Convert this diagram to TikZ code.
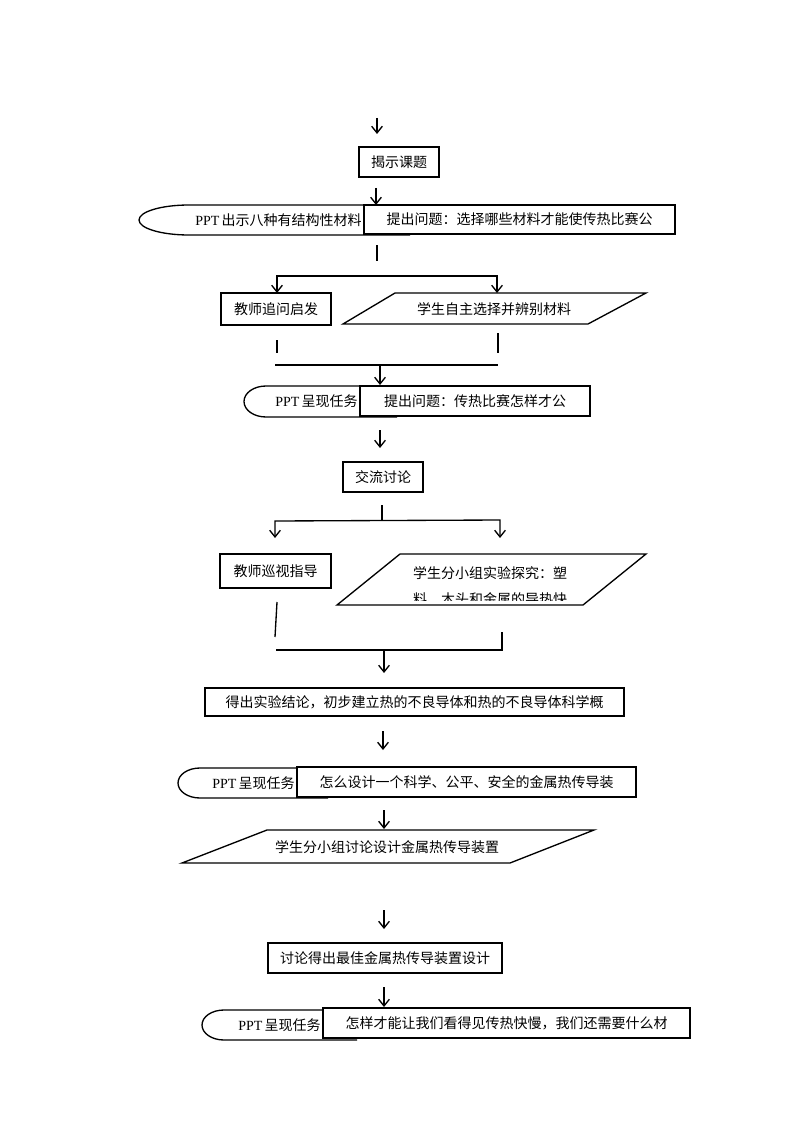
\documentclass[tikz,border=0pt]{standalone}
\usepackage{fontspec}
\setmainfont{Liberation Serif}
\newfontfamily\cjk{Noto Sans CJK SC}
\usetikzlibrary{arrows.meta,positioning,calc}
\newcommand{\PPT}{{\rmfamily PPT}\,}
% left rounded cap of a PPT box: x left, x right, y top, y bottom, x radius
\newcommand{\pptcap}[5]{%
  \draw[capline] (#2,#3) -- ({#1+#5},#3)
    .. controls ({#1+0.45*#5},#3) and (#1,{#3+0.22*(#4-#3)}) .. (#1,{(#3+#4)/2})
    .. controls (#1,{#4-0.22*(#4-#3)}) and ({#1+0.45*#5},#4) .. ({#1+#5},#4) -- (#2,#4);}

\begin{document}
\begin{tikzpicture}[
  x=0.75pt, y=-0.75pt,
  font=\cjk\fontsize{10.5pt}{13pt}\selectfont,
  box/.style={draw, line width=1.1pt, fill=white, inner sep=0pt},
  txt/.style={inner sep=0pt},
  capline/.style={line width=1pt},
  slant/.style={line width=1pt},
  link/.style={line width=1pt},
  arr/.style={line width=1pt, -{Straight Barb[length=5pt,width=8pt]}},
  arrs/.style={line width=1pt, {Straight Barb[length=5pt,width=8pt]}-{Straight Barb[length=5pt,width=8pt]}},
]
\fill[white] (0,0) rectangle (794,1123);
\useasboundingbox (0,0) rectangle (794,1123);

% start
\coordinate (a0s) at (377,118); \coordinate (a0e) at (377,134);
\draw[arr] (a0s) -- (a0e);
\node[box, minimum width=60pt, minimum height=22.5pt] (title) at (399,162) {揭示课题};
\coordinate (a1s) at (376,188); \coordinate (a1e) at (376,205);
\draw[arr] (a1s) -- (a1e);

% first question
\pptcap{139}{410}{205}{235}{50}
\node[txt, anchor=east] (ppt1) at (362,220) {\PPT 出示八种有结构性材料};
\node[box, minimum width=233.25pt, minimum height=21.75pt] (q1) at (519.5,219.5) {提出问题：选择哪些材料才能使传热比赛公};
\draw[link] (377,245) coordinate (l1a) -- (377,261) coordinate (l1b);

% split 1
\coordinate (s1l) at (277,293); \coordinate (s1r) at (497,293);
\draw[arrs] (s1l) -- (277,276) -- (497,276) -- (s1r);
\node[box, minimum width=82.5pt, minimum height=24pt] (ask) at (276,309) {教师追问启发};
\draw[slant] (395,293) -- (646,293) -- (588,324) -- (343,324) -- cycle;
\node[txt] (pick) at (494,309) {学生自主选择并辨别材料};

% join 1
\draw[link] (277,340) coordinate (l2a) -- (277,353) coordinate (l2b);
\draw[link] (498,333) coordinate (l3a) -- (498,353) coordinate (l3b);
\draw[link] (275,365) coordinate (j1l) -- (498,365) coordinate (j1r);
\coordinate (j1m) at (380,365); \coordinate (a3e) at (380,385);
\draw[arr] (j1m) -- (a3e);

% second question
\pptcap{244}{397}{386}{417}{22}
\node[txt, anchor=east] (ppt2) at (358,401) {\PPT 呈现任务};
\node[box, minimum width=172.5pt, minimum height=22.5pt] (q2) at (475,401) {提出问题：传热比赛怎样才公};
\coordinate (a4s) at (380,430); \coordinate (a4e) at (380,448);
\draw[arr] (a4s) -- (a4e);
\node[box, minimum width=60pt, minimum height=22.5pt] (talk) at (383,477) {交流讨论};
\draw[link] (382,505) coordinate (l4a) -- (382,521) coordinate (l4b);

% split 2
\coordinate (s2l) at (275,538); \coordinate (s2r) at (500,538);
\draw[arrs] (s2l) -- (275,521) -- (500,520) -- (s2r);
\node[box, minimum width=83.25pt, minimum height=25.5pt] (guide) at (275.5,571) {教师巡视指导};
\draw[slant] (400,554) -- (646,554) -- (583,605) -- (337,605) -- cycle;
\node[txt] (test) at (490,573) {学生分小组实验探究：塑};
\begin{scope}
  \clip (337,560) rectangle (646,600);
  \node[txt] (test2) at (490,599) {料、木头和金属的导热快};
\end{scope}

% join 2
\draw[link] (277,602) coordinate (l5a) -- (275,637) coordinate (l5b);
\draw[link] (502,632) coordinate (l6a) -- (502,650) -- (276,650) coordinate (j2l);
\coordinate (j2m) at (384,650); \coordinate (a5e) at (384,673);
\draw[arr] (j2m) -- (a5e);

% conclusion
\node[box, minimum width=314.25pt, minimum height=21pt] (concl) at (414.5,702) {得出实验结论，初步建立热的不良导体和热的不良导体科学概};
\coordinate (a6s) at (383,731); \coordinate (a6e) at (383,750);
\draw[arr] (a6s) -- (a6e);

% design task
\pptcap{178}{328}{768}{798}{22}
\node[txt, anchor=east] (ppt3) at (295,783) {\PPT 呈现任务};
\node[box, minimum width=254.25pt, minimum height=22.5pt] (q3) at (466.5,782) {怎么设计一个科学、公平、安全的金属热传导装};
\coordinate (a7s) at (384,810); \coordinate (a7e) at (384,829);
\draw[arr] (a7s) -- (a7e);
\draw[slant] (267,830) -- (594,830) -- (510,863) -- (182,863) -- cycle;
\node[txt] (plan) at (387,847) {学生分小组讨论设计金属热传导装置};
\coordinate (a8s) at (384,910); \coordinate (a8e) at (384,929);
\draw[arr] (a8s) -- (a8e);
\node[box, minimum width=175.5pt, minimum height=22.5pt] (best) at (385,958) {讨论得出最佳金属热传导装置设计};
\coordinate (a9s) at (384,987); \coordinate (a9e) at (384,1007);
\draw[arr] (a9s) -- (a9e);

% last task
\pptcap{202}{357}{1010}{1040}{22}
\node[txt, anchor=east] (ppt4) at (321,1025) {\PPT 呈现任务};
\node[box, minimum width=275.25pt, minimum height=22.5pt] (q4) at (506.5,1023) {怎样才能让我们看得见传热快慢，我们还需要什么材};
\end{tikzpicture}
\end{document}
